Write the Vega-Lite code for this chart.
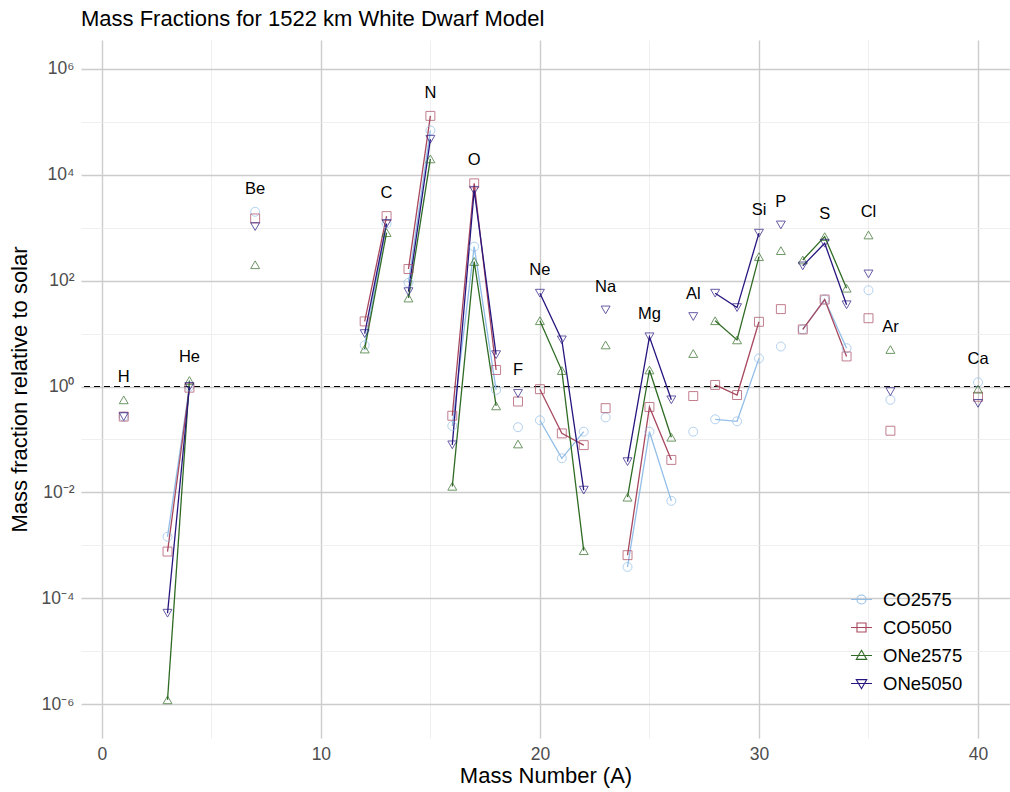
{
  "$schema": "https://vega.github.io/schema/vega-lite/v6.json",
  "autosize": "none",
  "padding": {"left": 81, "top": 40, "right": 0, "bottom": 54},
  "width": 929,
  "height": 698,
  "config": {
    "font": "Liberation Sans",
    "view": {"stroke": null},
    "axis": {"domain": false, "ticks": false, "labelColor": "#4d4d4d", "labelFontSize": 17.5, "titleFontSize": 22, "titleFontWeight": "normal", "titleColor": "#000000"},
    "title": {"fontSize": 22, "fontWeight": "normal", "color": "#000000"}
  },
  "title": {"text": "Mass Fractions for 1522 km White Dwarf Model", "anchor": "start", "frame": "group", "offset": 9},
  "data": {
    "values": [
      {"A": 1, "element": "H", "model": "CO2575", "value": 0.27},
      {"A": 1, "element": "H", "model": "CO5050", "value": 0.27},
      {"A": 1, "element": "H", "model": "ONe2575", "value": 0.56},
      {"A": 1, "element": "H", "model": "ONe5050", "value": 0.27},
      {"A": 3, "element": "He", "model": "CO2575", "value": 0.00145},
      {"A": 3, "element": "He", "model": "CO5050", "value": 0.00076},
      {"A": 3, "element": "He", "model": "ONe2575", "value": 0.0000012},
      {"A": 3, "element": "He", "model": "ONe5050", "value": 0.000052},
      {"A": 4, "element": "He", "model": "CO2575", "value": 1.0},
      {"A": 4, "element": "He", "model": "CO5050", "value": 0.95},
      {"A": 4, "element": "He", "model": "ONe2575", "value": 1.3},
      {"A": 4, "element": "He", "model": "ONe5050", "value": 1.0},
      {"A": 7, "element": "Be", "model": "CO2575", "value": 2000},
      {"A": 7, "element": "Be", "model": "CO5050", "value": 1500},
      {"A": 7, "element": "Be", "model": "ONe2575", "value": 200},
      {"A": 7, "element": "Be", "model": "ONe5050", "value": 1050},
      {"A": 12, "element": "C", "model": "CO2575", "value": 6},
      {"A": 12, "element": "C", "model": "CO5050", "value": 17},
      {"A": 12, "element": "C", "model": "ONe2575", "value": 5.1},
      {"A": 12, "element": "C", "model": "ONe5050", "value": 10},
      {"A": 13, "element": "C", "model": "CO2575", "value": 1200},
      {"A": 13, "element": "C", "model": "CO5050", "value": 1660},
      {"A": 13, "element": "C", "model": "ONe2575", "value": 810},
      {"A": 13, "element": "C", "model": "ONe5050", "value": 1200},
      {"A": 14, "element": "N", "model": "CO2575", "value": 91},
      {"A": 14, "element": "N", "model": "CO5050", "value": 166},
      {"A": 14, "element": "N", "model": "ONe2575", "value": 47},
      {"A": 14, "element": "N", "model": "ONe5050", "value": 62},
      {"A": 15, "element": "N", "model": "CO2575", "value": 69000},
      {"A": 15, "element": "N", "model": "CO5050", "value": 130000},
      {"A": 15, "element": "N", "model": "ONe2575", "value": 20000},
      {"A": 15, "element": "N", "model": "ONe5050", "value": 47000},
      {"A": 16, "element": "O", "model": "CO2575", "value": 0.18},
      {"A": 16, "element": "O", "model": "CO5050", "value": 0.28},
      {"A": 16, "element": "O", "model": "ONe2575", "value": 0.013},
      {"A": 16, "element": "O", "model": "ONe5050", "value": 0.079},
      {"A": 17, "element": "O", "model": "CO2575", "value": 440},
      {"A": 17, "element": "O", "model": "CO5050", "value": 6900},
      {"A": 17, "element": "O", "model": "ONe2575", "value": 230},
      {"A": 17, "element": "O", "model": "ONe5050", "value": 5100},
      {"A": 18, "element": "O", "model": "CO2575", "value": 0.86},
      {"A": 18, "element": "O", "model": "CO5050", "value": 2.05},
      {"A": 18, "element": "O", "model": "ONe2575", "value": 0.43},
      {"A": 18, "element": "O", "model": "ONe5050", "value": 4.0},
      {"A": 19, "element": "F", "model": "CO2575", "value": 0.17},
      {"A": 19, "element": "F", "model": "CO5050", "value": 0.52},
      {"A": 19, "element": "F", "model": "ONe2575", "value": 0.082},
      {"A": 19, "element": "F", "model": "ONe5050", "value": 0.74},
      {"A": 20, "element": "Ne", "model": "CO2575", "value": 0.23},
      {"A": 20, "element": "Ne", "model": "CO5050", "value": 0.89},
      {"A": 20, "element": "Ne", "model": "ONe2575", "value": 17.5},
      {"A": 20, "element": "Ne", "model": "ONe5050", "value": 58},
      {"A": 21, "element": "Ne", "model": "CO2575", "value": 0.044},
      {"A": 21, "element": "Ne", "model": "CO5050", "value": 0.13},
      {"A": 21, "element": "Ne", "model": "ONe2575", "value": 2.0},
      {"A": 21, "element": "Ne", "model": "ONe5050", "value": 7.6},
      {"A": 22, "element": "Ne", "model": "CO2575", "value": 0.14},
      {"A": 22, "element": "Ne", "model": "CO5050", "value": 0.078},
      {"A": 22, "element": "Ne", "model": "ONe2575", "value": 0.00079},
      {"A": 22, "element": "Ne", "model": "ONe5050", "value": 0.011},
      {"A": 23, "element": "Na", "model": "CO2575", "value": 0.26},
      {"A": 23, "element": "Na", "model": "CO5050", "value": 0.39},
      {"A": 23, "element": "Na", "model": "ONe2575", "value": 6.1},
      {"A": 23, "element": "Na", "model": "ONe5050", "value": 28},
      {"A": 24, "element": "Mg", "model": "CO2575", "value": 0.00039},
      {"A": 24, "element": "Mg", "model": "CO5050", "value": 0.00065},
      {"A": 24, "element": "Mg", "model": "ONe2575", "value": 0.0081},
      {"A": 24, "element": "Mg", "model": "ONe5050", "value": 0.038},
      {"A": 25, "element": "Mg", "model": "CO2575", "value": 0.14},
      {"A": 25, "element": "Mg", "model": "CO5050", "value": 0.41},
      {"A": 25, "element": "Mg", "model": "ONe2575", "value": 2.05},
      {"A": 25, "element": "Mg", "model": "ONe5050", "value": 8.7},
      {"A": 26, "element": "Mg", "model": "CO2575", "value": 0.0069},
      {"A": 26, "element": "Mg", "model": "CO5050", "value": 0.041},
      {"A": 26, "element": "Mg", "model": "ONe2575", "value": 0.11},
      {"A": 26, "element": "Mg", "model": "ONe5050", "value": 0.56},
      {"A": 27, "element": "Al", "model": "CO2575", "value": 0.14},
      {"A": 27, "element": "Al", "model": "CO5050", "value": 0.66},
      {"A": 27, "element": "Al", "model": "ONe2575", "value": 4.2},
      {"A": 27, "element": "Al", "model": "ONe5050", "value": 21},
      {"A": 28, "element": "Si", "model": "CO2575", "value": 0.24},
      {"A": 28, "element": "Si", "model": "CO5050", "value": 1.07},
      {"A": 28, "element": "Si", "model": "ONe2575", "value": 17.5},
      {"A": 28, "element": "Si", "model": "ONe5050", "value": 58},
      {"A": 29, "element": "Si", "model": "CO2575", "value": 0.22},
      {"A": 29, "element": "Si", "model": "CO5050", "value": 0.69},
      {"A": 29, "element": "Si", "model": "ONe2575", "value": 7.6},
      {"A": 29, "element": "Si", "model": "ONe5050", "value": 31},
      {"A": 30, "element": "Si", "model": "CO2575", "value": 3.4},
      {"A": 30, "element": "Si", "model": "CO5050", "value": 16.7},
      {"A": 30, "element": "Si", "model": "ONe2575", "value": 284},
      {"A": 30, "element": "Si", "model": "ONe5050", "value": 790},
      {"A": 31, "element": "P", "model": "CO2575", "value": 5.7},
      {"A": 31, "element": "P", "model": "CO5050", "value": 29},
      {"A": 31, "element": "P", "model": "ONe2575", "value": 370},
      {"A": 31, "element": "P", "model": "ONe5050", "value": 1130},
      {"A": 32, "element": "S", "model": "CO2575", "value": 12},
      {"A": 32, "element": "S", "model": "CO5050", "value": 12},
      {"A": 32, "element": "S", "model": "ONe2575", "value": 246},
      {"A": 32, "element": "S", "model": "ONe5050", "value": 190},
      {"A": 33, "element": "S", "model": "CO2575", "value": 44},
      {"A": 33, "element": "S", "model": "CO5050", "value": 44},
      {"A": 33, "element": "S", "model": "ONe2575", "value": 680},
      {"A": 33, "element": "S", "model": "ONe5050", "value": 510},
      {"A": 34, "element": "S", "model": "CO2575", "value": 5.3},
      {"A": 34, "element": "S", "model": "CO5050", "value": 3.7},
      {"A": 34, "element": "S", "model": "ONe2575", "value": 72},
      {"A": 34, "element": "S", "model": "ONe5050", "value": 35},
      {"A": 35, "element": "Cl", "model": "CO2575", "value": 66},
      {"A": 35, "element": "Cl", "model": "CO5050", "value": 19.5},
      {"A": 35, "element": "Cl", "model": "ONe2575", "value": 730},
      {"A": 35, "element": "Cl", "model": "ONe5050", "value": 134},
      {"A": 36, "element": "Ar", "model": "CO2575", "value": 0.56},
      {"A": 36, "element": "Ar", "model": "CO5050", "value": 0.146},
      {"A": 36, "element": "Ar", "model": "ONe2575", "value": 5.0},
      {"A": 36, "element": "Ar", "model": "ONe5050", "value": 0.8},
      {"A": 40, "element": "Ca", "model": "CO2575", "value": 1.2},
      {"A": 40, "element": "Ca", "model": "CO5050", "value": 0.64},
      {"A": 40, "element": "Ca", "model": "ONe2575", "value": 0.89},
      {"A": 40, "element": "Ca", "model": "ONe5050", "value": 0.48}
    ]
  },
  "encoding": {
    "x": {
      "field": "A", "type": "quantitative",
      "scale": {"domain": [-0.95, 41.46], "nice": false, "zero": false},
      "axis": {
        "title": "Mass Number (A)",
        "values": [0, 5, 10, 15, 20, 25, 30, 35, 40],
        "labelExpr": "datum.value % 10 == 0 ? datum.label : ''",
        "gridColor": {"condition": {"test": "datum.value % 10 != 0", "value": "#ebebeb"}, "value": "#cccccc"},
        "gridWidth": {"condition": {"test": "datum.value % 10 != 0", "value": 0.8}, "value": 1.4},
        "labelPadding": 7,
        "titlePadding": 3
      }
    },
    "y": {
      "field": "value", "type": "quantitative",
      "scale": {"type": "log", "domain": [2.28e-7, 3.53e6], "nice": false},
      "axis": {
        "title": "Mass fraction relative to solar",
        "values": [1e-6, 1e-5, 1e-4, 1e-3, 1e-2, 1e-1, 1, 10, 100, 1000, 1e4, 1e5, 1e6],
        "labelExpr": "abs(round(log(datum.value)/LN10)) % 2 == 1 ? '' : '10' + (round(log(datum.value)/LN10) < 0 ? '⁻' : '') + ['⁰','¹','²','³','⁴','⁵','⁶'][abs(round(log(datum.value)/LN10))]",
        "gridColor": {"condition": {"test": "abs(round(log(datum.value)/LN10)) % 2 == 1", "value": "#ebebeb"}, "value": "#cccccc"},
        "gridWidth": {"condition": {"test": "abs(round(log(datum.value)/LN10)) % 2 == 1", "value": 0.8}, "value": 1.4},
        "labelPadding": 7,
        "titlePadding": 10
      }
    }
  },
  "resolve": {"scale": {"shape": "independent", "stroke": "independent"}},
  "layer": [
    {
      "mark": {"type": "rule", "color": "#000000", "strokeDash": [6, 4], "strokeWidth": 1.1},
      "encoding": {"y": {"datum": 1}, "x": null}
    },
    {
      "mark": {"type": "line", "strokeWidth": 1.3},
      "encoding": {
        "color": {
          "field": "model", "type": "nominal",
          "scale": {"domain": ["CO2575", "CO5050", "ONe2575", "ONe5050"], "range": ["#92bee8", "#a8485f", "#2f6b24", "#27157f"]},
          "legend": null
        },
        "detail": {"field": "element"}
      }
    },
    {
      "mark": {"type": "point", "filled": false, "size": 80, "strokeWidth": 1},
      "encoding": {
        "color": {"field": "model", "type": "nominal", "legend": null},
        "shape": {
          "field": "model", "type": "nominal",
          "scale": {"domain": ["CO2575", "CO5050", "ONe2575", "ONe5050"], "range": ["circle", "square", "triangle-up", "triangle-down"]},
          "legend": null
        }
      }
    },
    {
      "mark": {"type": "point", "filled": false, "opacity": 0, "size": 80},
      "encoding": {
        "stroke": {
          "field": "model", "type": "nominal",
          "scale": {"domain": ["CO2575", "CO5050", "ONe2575", "ONe5050"], "range": ["#92bee8", "#a8485f", "#2f6b24", "#27157f"]},
          "legend": {
            "title": null, "orient": "none", "legendX": 769, "legendY": 548,
            "labelFontSize": 18.5, "labelColor": "#000000", "symbolSize": 441, "symbolStrokeWidth": 1.1,
            "symbolOpacity": 1, "symbolFillColor": "transparent", "rowPadding": 7, "labelOffset": 10
          }
        },
        "shape": {
          "field": "model", "type": "nominal",
          "scale": {
            "domain": ["CO2575", "CO5050", "ONe2575", "ONe5050"],
            "range": [
              "M-1,0H1M0.43,0A0.43,0.43,0,1,1,-0.43,0A0.43,0.43,0,1,1,0.43,0Z",
              "M-1,0H1M-0.43,-0.43H0.43V0.43H-0.43Z",
              "M-1,0H1M0,-0.5L0.5,0.37L-0.5,0.37Z",
              "M-1,0H1M0,0.5L0.5,-0.37L-0.5,-0.37Z"
            ]
          },
          "legend": {
            "title": null, "orient": "none", "legendX": 769, "legendY": 548,
            "labelFontSize": 18.5, "labelColor": "#000000", "symbolSize": 441, "symbolStrokeWidth": 1.1,
            "symbolOpacity": 1, "symbolFillColor": "transparent", "rowPadding": 7, "labelOffset": 10
          }
        }
      }
    },
    {
      "transform": [
        {"joinaggregate": [{"op": "max", "field": "value", "as": "peak"}], "groupby": ["element"]},
        {"filter": "datum.value == datum.peak"}
      ],
      "mark": {"type": "text", "fontSize": 16.5, "color": "#000000", "baseline": "middle", "dy": -23},
      "encoding": {"text": {"field": "element"}}
    }
  ]
}
